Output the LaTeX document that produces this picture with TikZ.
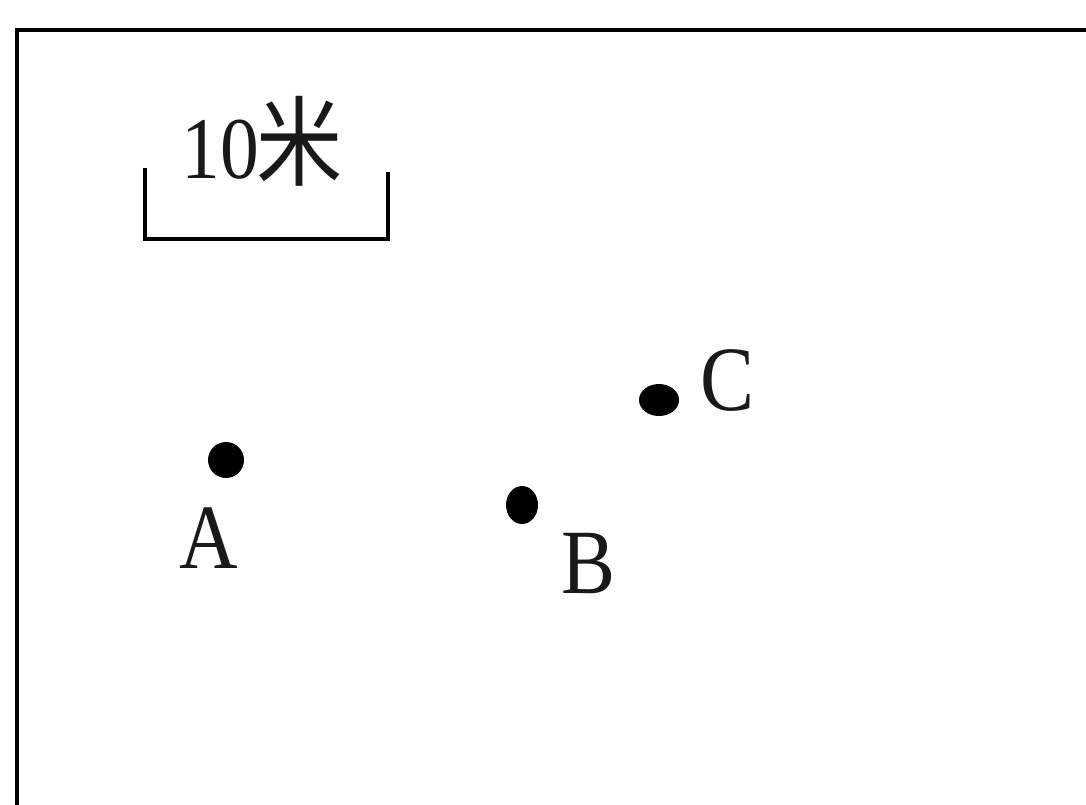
\documentclass[tikz,border=0pt]{standalone}
\usepackage{fontspec}
\setmainfont{Liberation Serif}
\newfontfamily\cjk{Noto Sans CJK SC}[FakeBold=0]
\begin{document}
\begin{tikzpicture}[x=1pt,y=-1pt,
  lbl/.style={inner sep=0pt, font=\fontsize{92}{92}\selectfont, xscale=0.88, text=black!90},
  pt/.style={fill=black, draw=none}]
\useasboundingbox (0,0) rectangle (1086,804);
\clip (0,0) rectangle (1086,804);
% frame (clipped at right and bottom)
\draw[line width=4.5pt] (17,30) rectangle (1140,860);
% scale bar
\draw[line width=3.5pt] (145,168) -- (145,239) -- (388,239) -- (388,172);
\node[lbl, font=\fontsize{88}{88}\selectfont] (scale) at (262,141) {10\kern-3pt{\cjk\fontsize{98}{98}\selectfont 米}};
% points
\fill[pt] (226,460) ellipse [x radius=18, y radius=18];
\fill[pt] (522,505) ellipse [x radius=16, y radius=19];
\fill[pt] (659,400) ellipse [x radius=20, y radius=16];
\coordinate (A) at (226,460);
\coordinate (B) at (522,505);
\coordinate (C) at (659,400);
\node[lbl] (lA) at (209,538) {A};
\node[lbl] (lB) at (588,564) {B};
\node[lbl] (lC) at (727,380) {C};
\end{tikzpicture}
\end{document}
